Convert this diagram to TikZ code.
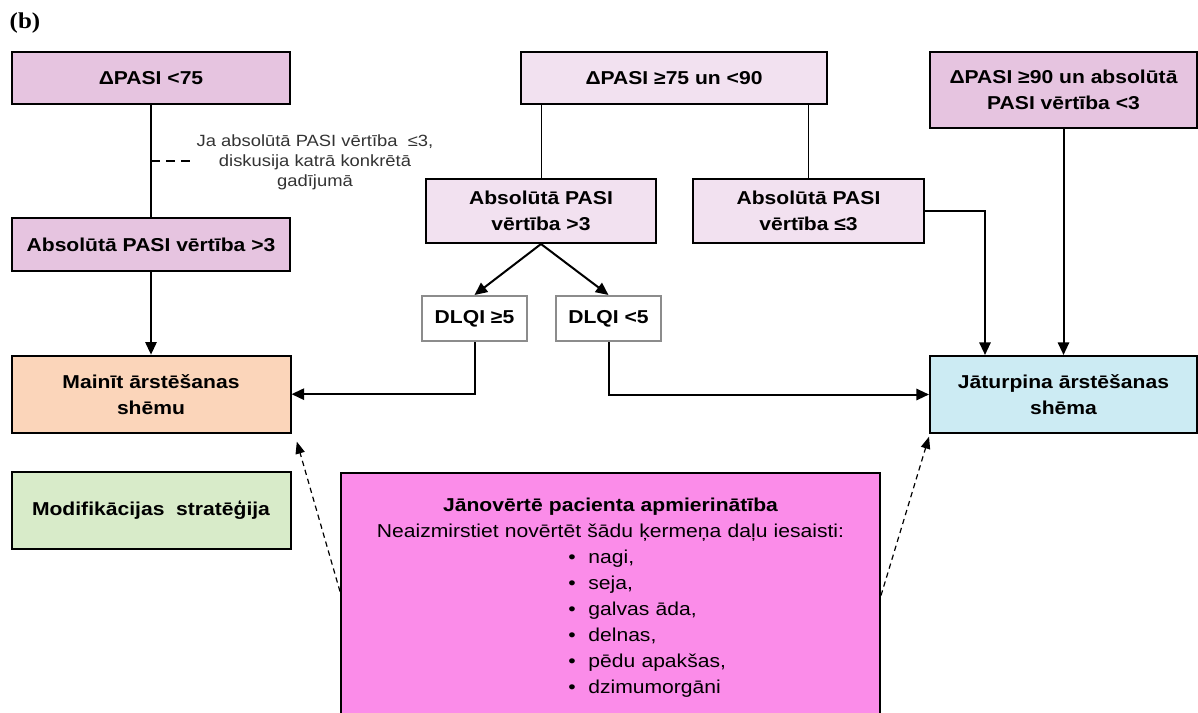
\documentclass[tikz,border=0pt]{standalone}
\usepackage{fontspec}
\setmainfont{Liberation Sans}[FakeStretch=1.13]
\newfontfamily\panelfont{Liberation Serif}[FakeStretch=1.1]
\usepackage{xcolor}
\usetikzlibrary{arrows.meta,positioning,calc}
\definecolor{critpink}{HTML}{E6C4E0}
\definecolor{critlight}{HTML}{F2E1F0}
\definecolor{changefill}{HTML}{FBD5BA}
\definecolor{keepfill}{HTML}{CCEBF3}
\definecolor{modfill}{HTML}{D8EBC9}
\definecolor{satfill}{HTML}{FB8CE9}
\tikzset{
  critbox/.style={draw, line width=1.5pt, align=center, inner sep=3pt, font=\fontsize{14pt}{19.5pt}\selectfont\bfseries},
  dlqibox/.style={draw=gray!90, line width=1.5pt, fill=white, align=center, minimum width=78.75pt, minimum height=33.75pt, font=\fontsize{14pt}{19.5pt}\selectfont\bfseries},
  flowarrow/.style={-{Triangle[length=9.5pt,width=8.5pt]}, line width=1.5pt},
  thinlink/.style={line width=0.75pt},
  hintarrow/.style={-{Triangle[length=9pt,width=7pt]}, line width=0.9pt, dash pattern=on 4pt off 3pt},
  notelabel/.style={font=\fontsize{12.2pt}{15pt}\selectfont, align=center, text=black!80}
}

\begin{document}
\begin{tikzpicture}[x=0.75pt, y=-0.75pt]
  \useasboundingbox (0,0) rectangle (1198,713);
  \node[anchor=west, font=\panelfont\fontsize{17pt}{20pt}\selectfont\bfseries] (panel) at (5,23) {(b)};

  % left column
  \node[critbox, fill=critpink, minimum width=208.5pt, minimum height=39pt] (lowresp) at (151,78) {ΔPASI <75};
  \node[critbox, fill=critpink, minimum width=208.5pt, minimum height=39.75pt, below=84pt of lowresp] (absleft) {Absolūtā PASI vērtība >3};
  \node[critbox, fill=changefill, minimum width=209.25pt, minimum height=57.75pt, below=62pt of absleft] (change) {Mainīt ārstēšanas\\shēmu};
  \node[critbox, fill=modfill, minimum width=209.25pt, minimum height=57.75pt, below=27.75pt of change] (modif) {Modifikācijas\ \ stratēģija};
  \node[notelabel] (note) at (315,162) {Ja absolūtā PASI vērtība \ ≤3,\\diskusija katrā konkrētā\\gadījumā};

  % middle and right
  \node[critbox, fill=critlight, minimum width=229.5pt, minimum height=39pt] (midresp) at (674,78) {ΔPASI ≥75 un <90};
  \node[critbox, fill=critlight, minimum width=172.5pt, minimum height=48pt] (absmid) at (541,211) {Absolūtā PASI\\vērtība >3};
  \node[critbox, fill=critlight, minimum width=173.25pt, minimum height=48pt] (absright) at (808.5,211) {Absolūtā PASI\\vērtība ≤3};
  \node[critbox, fill=critpink, minimum width=200.25pt, minimum height=57pt] (highresp) at (1063.5,90) {ΔPASI ≥90 un absolūtā\\PASI vērtība <3};
  \node[dlqibox] (dlqihigh) at (474.5,318.5) {DLQI ≥5};
  \node[dlqibox] (dlqilow) at (608.5,318.5) {DLQI <5};
  \node[critbox, fill=keepfill, minimum width=200.25pt, minimum height=57.75pt] (keep) at (1063.5,394.5) {Jāturpina ārstēšanas\\shēma};
  \node[draw, line width=1.5pt, fill=satfill, anchor=north, minimum width=404.25pt, minimum height=189.75pt,
        text width=395pt, align=center, font=\fontsize{14pt}{19.5pt}\selectfont] (satisf) at (610.5,472)
        {{\bfseries Jānovērtē pacienta apmierinātība}\\
         Neaizmirstiet novērtēt šādu ķermeņa daļu iesaisti:\\
         \hspace*{55pt}\begin{tabular}[t]{@{}l@{}}
           \textbullet\hspace{9.5pt}nagi,\\
           \textbullet\hspace{9.5pt}seja,\\
           \textbullet\hspace{9.5pt}galvas āda,\\
           \textbullet\hspace{9.5pt}delnas,\\
           \textbullet\hspace{9.5pt}pēdu apakšas,\\
           \textbullet\hspace{9.5pt}dzimumorgāni
         \end{tabular}};

  % connectors
  \coordinate (notemid) at ($(lowresp.south)!0.5!(absleft.north)$);
  \draw[line width=1.5pt] (lowresp) -- (absleft);
  \draw[line width=1.5pt, dash pattern=on 6.75pt off 4.5pt] (notemid) -- (note.west |- notemid);
  \draw[flowarrow] (absleft) -- (change);
  \draw[thinlink] (absmid.north |- midresp.south) -- (absmid.north);
  \draw[thinlink] (absright.north |- midresp.south) -- (absright.north);
  \draw[flowarrow] (absmid.south) -- (dlqihigh.north);
  \draw[flowarrow] (absmid.south) -- (dlqilow.north);
  \draw[flowarrow] (dlqihigh.south) |- (change.east);
  \draw[flowarrow] (dlqilow.south) |- (keep.west);
  \draw[flowarrow] (absright.east) -| ([xshift=42pt]keep.north west);
  \draw[flowarrow] (highresp.south) -- (keep.north);
  \draw[hintarrow] ([yshift=6pt]satisf.west) -- ([xshift=4pt,yshift=-6pt]change.south east);
  \draw[hintarrow] ([yshift=3pt]satisf.east) -- ([yshift=-2pt]keep.south west);
\end{tikzpicture}
\end{document}
